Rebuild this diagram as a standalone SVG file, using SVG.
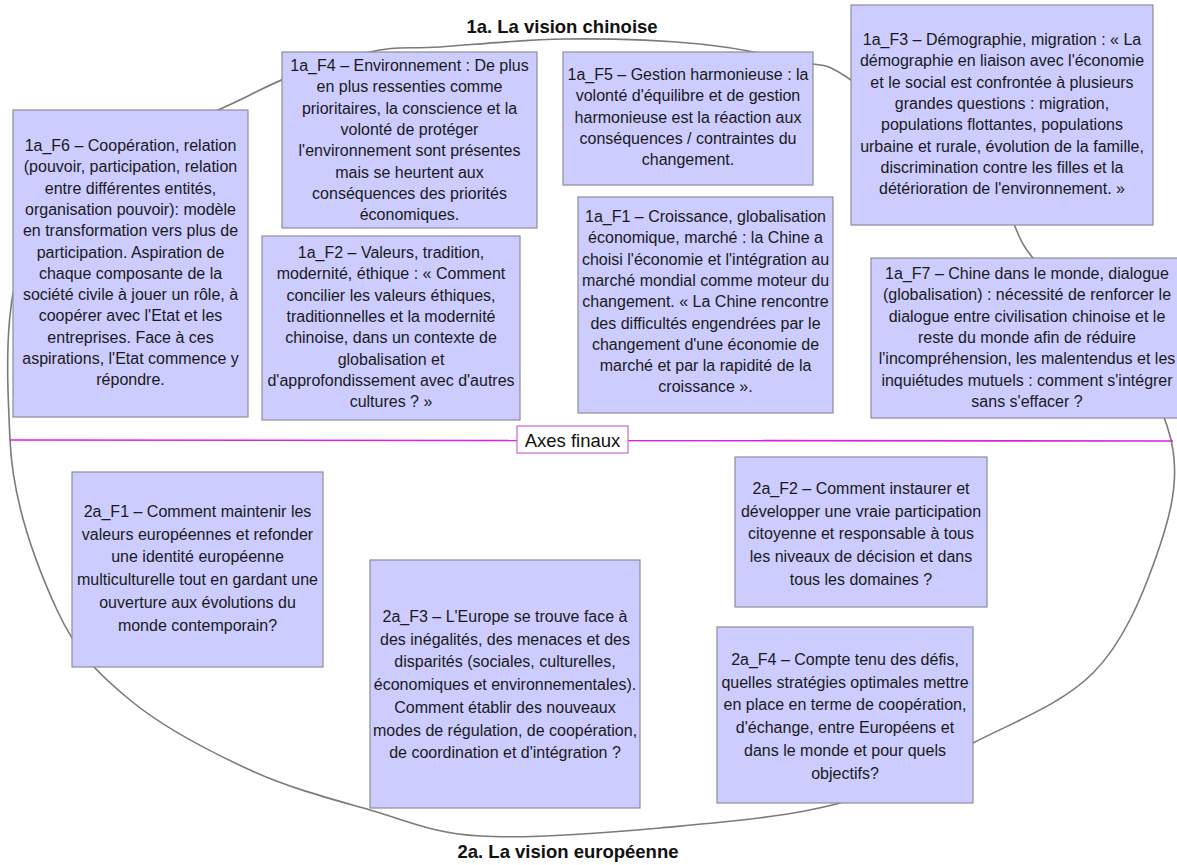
<svg xmlns="http://www.w3.org/2000/svg" width="1177" height="865" viewBox="0 0 1177 865">
<style>
.bg{fill:#ffffff}
.box{fill:#ccccff;stroke:#8c8c99;stroke-width:1.2}
.t1{font-family:"Liberation Sans",Arial,sans-serif;font-size:16px;fill:#1a1a1a;text-anchor:middle}
.t2{font-family:"Liberation Sans",Arial,sans-serif;font-size:16px;fill:#1a1a1a;text-anchor:middle}
.title{font-family:"Liberation Sans",Arial,sans-serif;font-size:18.5px;font-weight:bold;fill:#111;text-anchor:middle}
.ring{fill:none;stroke:#7a7a7a;stroke-width:1.6}
.axis{fill:none;stroke:#dd22dd;stroke-width:1.6}
.axbox{fill:#ffffff;stroke:#cc66cc;stroke-width:1.2}
.axt{font-family:"Liberation Sans",Arial,sans-serif;font-size:18.5px;fill:#111;text-anchor:middle}
</style>
<rect class="bg" x="0" y="0" width="1177" height="865"/>
<g id="connectors">
<path class="ring" d="M440,47 C473.3,44.7 521.7,39.5 565,39 C608.3,38.5 660.8,40.2 700,44 C739.2,47.8 774.8,56 800,62 C825.2,68 819.3,58.7 851,80 C882.7,101.3 959.7,160.3 990,190 C1020.3,219.7 1011.3,233 1033,258 C1054.7,283 1096.7,308 1120,340 C1143.3,372 1167.2,413.3 1173,450 C1178.8,486.7 1168.3,522.8 1155,560 C1141.7,597.2 1123.3,642.5 1093,673 C1062.7,703.5 1015.2,721.3 973,743 C930.8,764.7 892.2,788.8 840,803 C787.8,817.2 720,822.5 660,828 C600,833.5 528.3,839 480,836 C431.7,833 408.3,821 370,810 C331.7,799 290,788.3 250,770 C210,751.7 162.2,726.7 130,700 C97.8,673.3 77,653.3 57,610 C37,566.7 12.8,505 10,440 C7.2,375 0,277.5 40,220 C80,162.5 195.8,122.8 250,95 C304.2,67.2 333.3,61 365,53 C396.7,45 406.7,49.3 440,47 Z"/>
<line class="axis" x1="10" y1="440" x2="1173" y2="441"/>
</g>
<g id="title-1a"><text class="title" x="562" y="33">1a. La vision chinoise</text></g>
<g id="title-2a"><text class="title" x="568" y="858">2a. La vision européenne</text></g>
<g id="axes-finaux">
<rect class="axbox" x="517" y="426" width="111" height="27"/>
<text class="axt" x="572.5" y="446.5">Axes finaux</text>
</g>
<g id="n1a_F4">
<rect class="box" x="282" y="52" width="255" height="176"/>
<text class="t1"><tspan x="409.5" y="71">1a_F4 – Environnement : De plus</tspan><tspan x="409.5" y="92.3">en plus ressenties comme</tspan><tspan x="409.5" y="113.6">prioritaires, la conscience et la</tspan><tspan x="409.5" y="134.9">volonté de protéger</tspan><tspan x="409.5" y="156.2">l'environnement sont présentes</tspan><tspan x="409.5" y="177.5">mais se heurtent aux</tspan><tspan x="409.5" y="198.8">conséquences des priorités</tspan><tspan x="409.5" y="220.1">économiques.</tspan></text>
</g>
<g id="n1a_F6">
<rect class="box" x="13" y="110" width="235" height="307"/>
<text class="t1"><tspan x="130.5" y="151">1a_F6 – Coopération, relation</tspan><tspan x="130.5" y="172.3">(pouvoir, participation, relation</tspan><tspan x="130.5" y="193.6">entre différentes entités,</tspan><tspan x="130.5" y="214.9">organisation pouvoir): modèle</tspan><tspan x="130.5" y="236.2">en transformation vers plus de</tspan><tspan x="130.5" y="257.5">participation. Aspiration de</tspan><tspan x="130.5" y="278.8">chaque composante de la</tspan><tspan x="130.5" y="300.1">société civile à jouer un rôle, à</tspan><tspan x="130.5" y="321.4">coopérer avec l'Etat et les</tspan><tspan x="130.5" y="342.7">entreprises. Face à ces</tspan><tspan x="130.5" y="364">aspirations, l'Etat commence y</tspan><tspan x="130.5" y="385.3">répondre.</tspan></text>
</g>
<g id="n1a_F5">
<rect class="box" x="563" y="52" width="250" height="133"/>
<text class="t1"><tspan x="688" y="80">1a_F5 – Gestion harmonieuse : la</tspan><tspan x="688" y="101.3">volonté d'équilibre et de gestion</tspan><tspan x="688" y="122.6">harmonieuse est la réaction aux</tspan><tspan x="688" y="143.9">conséquences / contraintes du</tspan><tspan x="688" y="165.2">changement.</tspan></text>
</g>
<g id="n1a_F3">
<rect class="box" x="851" y="5" width="302" height="220"/>
<text class="t1"><tspan x="1002" y="45">1a_F3 – Démographie, migration : « La</tspan><tspan x="1002" y="66.3">démographie en liaison avec l'économie</tspan><tspan x="1002" y="87.6">et le social est confrontée à plusieurs</tspan><tspan x="1002" y="108.9">grandes questions : migration,</tspan><tspan x="1002" y="130.2">populations flottantes, populations</tspan><tspan x="1002" y="151.5">urbaine et rurale, évolution de la famille,</tspan><tspan x="1002" y="172.8">discrimination contre les filles et la</tspan><tspan x="1002" y="194.1">détérioration de l'environnement. »</tspan></text>
</g>
<g id="n1a_F2">
<rect class="box" x="262" y="236" width="258" height="184"/>
<text class="t1"><tspan x="391" y="258">1a_F2 – Valeurs, tradition,</tspan><tspan x="391" y="279.3">modernité, éthique : « Comment</tspan><tspan x="391" y="300.6">concilier les valeurs éthiques,</tspan><tspan x="391" y="321.9">traditionnelles et la modernité</tspan><tspan x="391" y="343.2">chinoise, dans un contexte de</tspan><tspan x="391" y="364.5">globalisation et</tspan><tspan x="391" y="385.8">d'approfondissement avec d'autres</tspan><tspan x="391" y="407.1">cultures ? »</tspan></text>
</g>
<g id="n1a_F1">
<rect class="box" x="578" y="197" width="255" height="216"/>
<text class="t1"><tspan x="705.5" y="222">1a_F1 – Croissance, globalisation</tspan><tspan x="705.5" y="243.3">économique, marché : la Chine a</tspan><tspan x="705.5" y="264.6">choisi l'économie et l'intégration au</tspan><tspan x="705.5" y="285.9">marché mondial comme moteur du</tspan><tspan x="705.5" y="307.2">changement. « La Chine rencontre</tspan><tspan x="705.5" y="328.5">des difficultés engendrées par le</tspan><tspan x="705.5" y="349.8">changement d'une économie de</tspan><tspan x="705.5" y="371.1">marché et par la rapidité de la</tspan><tspan x="705.5" y="392.4">croissance ».</tspan></text>
</g>
<g id="n1a_F7">
<rect class="box" x="871" y="258" width="312" height="160"/>
<text class="t1"><tspan x="1027" y="279">1a_F7 – Chine dans le monde, dialogue</tspan><tspan x="1027" y="300.3">(globalisation) : nécessité de renforcer le</tspan><tspan x="1027" y="321.6">dialogue entre civilisation chinoise et le</tspan><tspan x="1027" y="342.9">reste du monde afin de réduire</tspan><tspan x="1027" y="364.2">l'incompréhension, les malentendus et les</tspan><tspan x="1027" y="385.5">inquiétudes mutuels : comment s'intégrer</tspan><tspan x="1027" y="406.8">sans s'effacer ?</tspan></text>
</g>
<g id="n2a_F1">
<rect class="box" x="72" y="472" width="251" height="195"/>
<text class="t2"><tspan x="197.5" y="517">2a_F1 – Comment maintenir les</tspan><tspan x="197.5" y="539.7">valeurs européennes et refonder</tspan><tspan x="197.5" y="562.4">une identité européenne</tspan><tspan x="197.5" y="585.1">multiculturelle tout en gardant une</tspan><tspan x="197.5" y="607.8">ouverture aux évolutions du</tspan><tspan x="197.5" y="630.5">monde contemporain?</tspan></text>
</g>
<g id="n2a_F3">
<rect class="box" x="370" y="560" width="270" height="248"/>
<text class="t2"><tspan x="505" y="622">2a_F3 – L'Europe se trouve face à</tspan><tspan x="505" y="644.7">des inégalités, des menaces et des</tspan><tspan x="505" y="667.4">disparités (sociales, culturelles,</tspan><tspan x="505" y="690.1">économiques et environnementales).</tspan><tspan x="505" y="712.8">Comment établir des nouveaux</tspan><tspan x="505" y="735.5">modes de régulation, de coopération,</tspan><tspan x="505" y="758.2">de coordination et d'intégration ?</tspan></text>
</g>
<g id="n2a_F2">
<rect class="box" x="735" y="457" width="252" height="150"/>
<text class="t2"><tspan x="861" y="494">2a_F2 – Comment instaurer et</tspan><tspan x="861" y="516.7">développer une vraie participation</tspan><tspan x="861" y="539.4">citoyenne et responsable à tous</tspan><tspan x="861" y="562.1">les niveaux de décision et dans</tspan><tspan x="861" y="584.8">tous les domaines ?</tspan></text>
</g>
<g id="n2a_F4">
<rect class="box" x="717" y="627" width="256" height="176"/>
<text class="t2"><tspan x="845" y="665">2a_F4 – Compte tenu des défis,</tspan><tspan x="845" y="687.7">quelles stratégies optimales mettre</tspan><tspan x="845" y="710.4">en place en terme de coopération,</tspan><tspan x="845" y="733.1">d'échange, entre Européens et</tspan><tspan x="845" y="755.8">dans le monde et pour quels</tspan><tspan x="845" y="778.5">objectifs?</tspan></text>
</g>
</svg>
